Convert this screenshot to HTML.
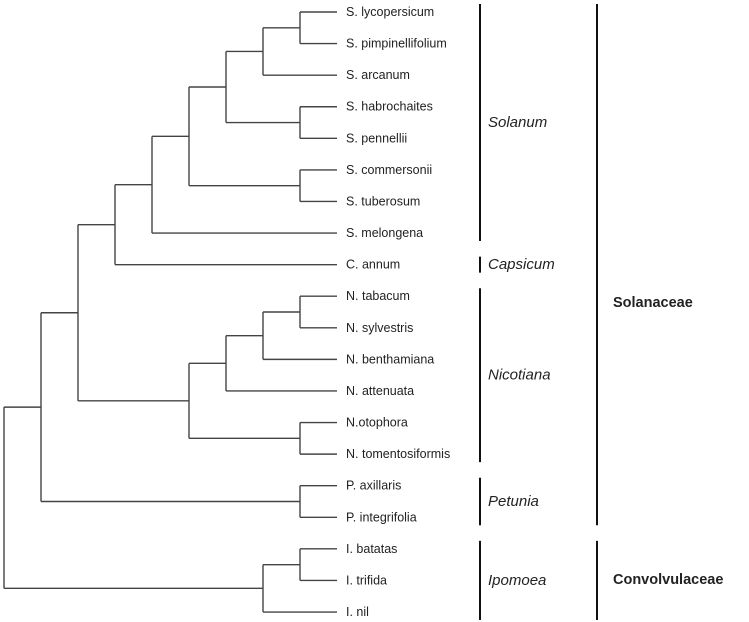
<!DOCTYPE html>
<html><head><meta charset="utf-8"><style>
html,body{margin:0;padding:0;background:#fff}
svg{display:block}
text{font-family:"Liberation Sans",Arial,sans-serif}
</style></head><body>
<svg id="tree" width="749" height="622" viewBox="0 0 749 622" xmlns="http://www.w3.org/2000/svg">
<g id="branches"></g>
<g id="leaves"></g>
<g id="groups"></g>
</svg>
<script>
const leafNames = ["S. lycopersicum","S. pimpinellifolium","S. arcanum","S. habrochaites","S. pennellii","S. commersonii","S. tuberosum","S. melongena","C. annum","N. tabacum","N. sylvestris","N. benthamiana","N. attenuata","N.otophora","N. tomentosiformis","P. axillaris","P. integrifolia","I. batatas","I. trifida","I. nil"];
const topology = [[[[[[[[[0,1],2],[3,4]],[5,6]],7],8],[[[[9,10],11],12],[13,14]]],[15,16]],[[17,18],19]];
const genusNames = ["Solanum","Capsicum","Nicotiana","Petunia","Ipomoea"];
const genusRanges = [[0,7],[8,8],[9,14],[15,16],[17,19]];
const familyNames = ["Solanaceae","Convolvulaceae"];
const familyRanges = [[0,16],[17,19]];
const familyLabelY = [303, 580];

const NS="http://www.w3.org/2000/svg";
const y0=12, dy=31.58, dx=37, leafX=337;
const yOf=i=>y0+i*dy;
const xOfHeight=h=>leafX-h*dx;
const br=document.getElementById('branches');
function line(x1,y1,x2,y2,parent,name,w,col){
  const l=document.createElementNS(NS,'line');
  l.setAttribute('x1',x1);l.setAttribute('y1',y1);l.setAttribute('x2',x2);l.setAttribute('y2',y2);
  l.setAttribute('stroke',col||'#444');l.setAttribute('stroke-width',w||1.4);
  
  
  parent.appendChild(l);
}
function height(n){return typeof n==='number'?0:1+Math.max(...n.map(height));}
function draw(node){
  if(typeof node==='number'){return {y:yOf(node),x:leafX};}
  const x=xOfHeight(height(node));
  const ys=node.map(c=>{const r=draw(c);line(x,r.y,r.x,r.y,br,'branch');return r.y;});
  line(x,Math.min(...ys),x,Math.max(...ys),br,'node-connector');
  return {y:(Math.min(...ys)+Math.max(...ys))/2,x:x};
}
const root=draw(topology);
function txt(s,x,y,size,parent,name,style,weight){
  const t=document.createElementNS(NS,'text');
  t.setAttribute('x',x);t.setAttribute('y',y);t.setAttribute('font-size',size);
  t.setAttribute('dominant-baseline','central');t.setAttribute('fill','#222');
  if(style)t.setAttribute('font-style',style);
  if(weight)t.setAttribute('font-weight',weight);
  t.textContent=s;
  
  
  parent.appendChild(t);
}
const lv=document.getElementById('leaves');
leafNames.forEach((n,i)=>txt(n,346,yOf(i),12.5,lv,'leaf-label'));
const gr=document.getElementById('groups');
genusRanges.forEach((r,i)=>{
  const a=yOf(r[0])-8,b=yOf(r[1])+8;
  line(480,a,480,b,gr,'genus-bracket',2,'#111');
  txt(genusNames[i],488,(a+b)/2,15,gr,'genus-label','italic');
});
familyRanges.forEach((r,i)=>{
  const a=yOf(r[0])-8,b=yOf(r[1])+8;
  line(597,a,597,b,gr,'family-bracket',2,'#111');
  txt(familyNames[i],613,familyLabelY[i],14.5,gr,'family-label',null,'bold');
});
</script>
</body></html>
